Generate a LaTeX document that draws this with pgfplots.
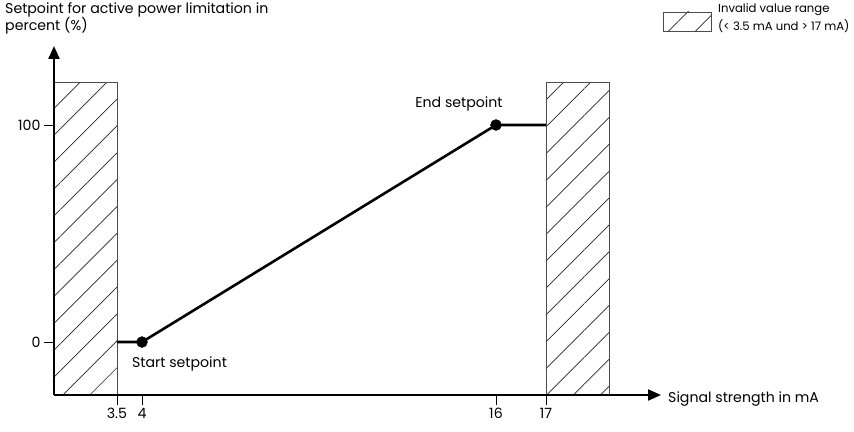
\documentclass[border=0pt]{standalone}
\usepackage{pgfplots}
\pgfplotsset{compat=1.18}
\usepackage{fontspec}
\setmainfont{Poppins}
\usetikzlibrary{patterns.meta,arrows.meta}
\newcommand{\fs}{\fontsize{14.2}{17.5}\selectfont}
\newcommand{\fl}{\fontsize{11.7}{19}\selectfont}
\begin{document}
\begin{tikzpicture}[x=1bp,y=1bp]
\begin{axis}[
  at={(0,0)}, anchor=south west,
  scale only axis, width=607bp, height=349bp,
  x coord trafo/.code={\pgfmathparse{#1<=3.5 ? 18*#1 : (#1<=4 ? 63+50*(#1-3.5) : (#1<=16 ? 88+29.5*(#1-4) : (#1<=17 ? 442+50*(#1-16) : 492+18*(#1-17))))}},
  xmin=0, xmax=23.39,
  ymin=-24.4, ymax=136.4,
  axis lines=left,
  axis line style={line width=2.2bp, -{Triangle[length=13bp,width=11bp]}},
  axis on top,
  clip=false,
  tick align=outside,
  major tick length=10bp,
  tick style={black, line width=0.9bp},
  xtick={3.5,4,16,17}, xticklabels={3.5,4,16,17},
  ytick={0,100}, yticklabels={0,100},
  ticklabel style={font=\fs},
]
\addplot[draw=black!70, line width=0.8bp, pattern={Lines[angle=45,distance=19bp,line width=0.7bp]}, pattern color=black!85]
  coordinates {(0,-24.4) (3.5,-24.4) (3.5,119.5) (0,119.5)} -- cycle;
\addplot[draw=black!70, line width=0.8bp, pattern={Lines[angle=45,distance=19bp,line width=0.7bp]}, pattern color=black!85]
  coordinates {(17,-24.4) (20.5,-24.4) (20.5,119.5) (17,119.5)} -- cycle;
\addplot[black, line width=2.6bp] coordinates {(3.5,0) (4,0) (16,100) (17,100)};
\addplot[only marks, mark=*, mark size=5.5bp, black] coordinates {(4,0) (16,100)};
\end{axis}
\node[font=\fs] at (125.5,31) {Start setpoint};
\node[font=\fs] at (405,291) {End setpoint};
\node[font=\fs, anchor=north west, align=left, inner sep=0pt] at (-49,393) {Setpoint for active power limitation in\\percent (\%)};
\node[font=\fs, anchor=west, inner sep=0pt] at (614,-4) {Signal strength in mA};
\draw[draw=black!70, line width=0.8bp, pattern={Lines[angle=45,distance=19bp,line width=0.7bp]}, pattern color=black!85] (609,364) rectangle (657,383);
\node[font=\fl, anchor=north west, align=left, inner sep=0pt] at (664,392) {Invalid value range\\(< 3.5 mA und > 17 mA)};
\pgfresetboundingbox
\path[use as bounding box] (-54,-36) rectangle (800,395);
\end{tikzpicture}
\end{document}
